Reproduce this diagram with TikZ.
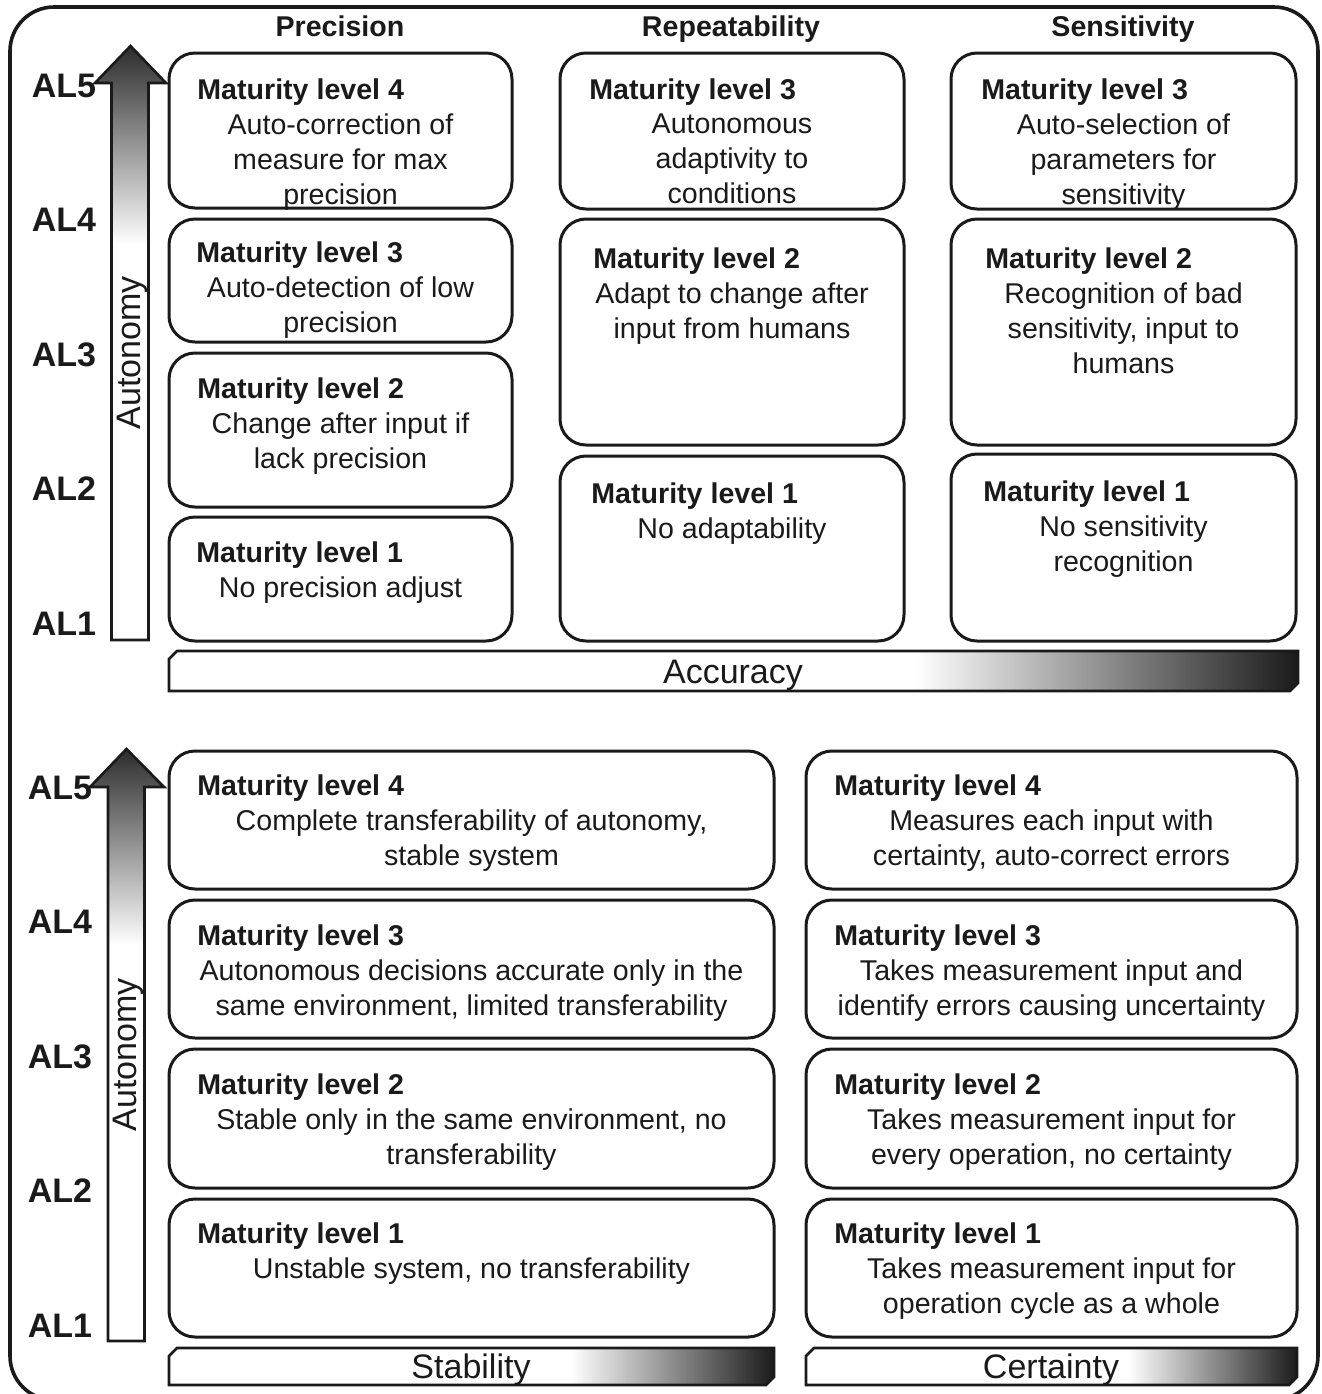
\documentclass[tikz,border=0pt]{standalone}
\usepackage{fontspec}
\setmainfont{Liberation Sans}
\usetikzlibrary{fit}
\definecolor{ink}{HTML}{1A1A1A}
\begin{document}
\begin{tikzpicture}[x=0.5pt,y=-0.5pt,
  mlbox/.style={draw=ink, line width=1.5pt, rounded corners=13pt, inner sep=0pt},
  ttl/.style={font=\fontsize{14.3}{17.5}\selectfont\bfseries, text=ink, anchor=base west, inner sep=0pt},
  desc/.style={font=\fontsize{14.3}{17.5}\selectfont, text=ink, align=center, anchor=north, inner sep=0pt, yshift=-2pt, execute at begin node={\strut}},
  desc1/.style={desc, yshift=2pt},
  hdr/.style={font=\fontsize{14.3}{17.5}\selectfont\bfseries, text=ink, anchor=base, inner sep=0pt},
  allbl/.style={font=\fontsize{17}{20}\selectfont\bfseries, text=ink, anchor=base, inner sep=0pt},
  barlbl/.style={font=\fontsize{17}{20}\selectfont, text=ink, anchor=base, inner sep=0pt},
  outl/.style={draw=ink, line width=1.3pt, line join=miter}
]
\useasboundingbox (0,0) rectangle (1322,1394);
% outer frame
\draw[draw=ink, line width=1.8pt, rounded corners=22pt] (10,7) rectangle (1318,1400);

% ---------------- upper part ----------------
\node[hdr] (hP) at (340,36) {Precision};
\node[hdr] (hR) at (731,36) {Repeatability};
\node[hdr] (hS) at (1123,36) {Sensitivity};

% autonomy arrow (upper)
\begin{scope}
\clip (111.5,640) -- (111.5,83) -- (95,83) -- (130.5,46) -- (166,83) -- (148.5,83) -- (148.5,640) -- cycle;
\fill[white] (90,40) rectangle (170,645);
\shade[top color=ink!92, bottom color=white] (90,46) rectangle (170,245);
\end{scope}
\draw[outl] (111.5,640) -- (111.5,83) -- (95,83) -- (130.5,46) -- (166,83) -- (148.5,83) -- (148.5,640) -- cycle;
\node[barlbl, anchor=center, rotate=90] (autU) at (132,353) {Autonomy};

\node[allbl] (u5) at (64,97) {AL5};
\node[allbl] (u4) at (64,231) {AL4};
\node[allbl] (u3) at (64,366) {AL3};
\node[allbl] (u2) at (64,500) {AL2};
\node[allbl] (u1) at (64,635) {AL1};

% Precision column
\node[mlbox, fit={(169,53) (512,208)}] (p4) {};
\node[mlbox, fit={(169,219) (512,342)}] (p3) {};
\node[mlbox, fit={(169,353) (512,507)}] (p2) {};
\node[mlbox, fit={(169,517) (512,641)}] (p1) {};
\node[ttl] (tp4) at (197,99) {Maturity level 4};
\node[desc] (dp4) at (340.5,109.5) {Auto-correction of\\measure for max\\precision};
\node[ttl] (tp3) at (196,262) {Maturity level 3};
\node[desc] (dp3) at (340.5,272.5) {Auto-detection of low\\precision};
\node[ttl] (tp2) at (197,398) {Maturity level 2};
\node[desc] (dp2) at (340.5,408.5) {Change after input if\\lack precision};
\node[ttl] (tp1) at (196,562) {Maturity level 1};
\node[desc1] (dp1) at (340.5,572.5) {No precision adjust};

% Repeatability column
\node[mlbox, fit={(560,53) (904,209)}] (r3) {};
\node[mlbox, fit={(560,219) (904,445)}] (r2) {};
\node[mlbox, fit={(560,456) (904,641)}] (r1) {};
\node[ttl] (tr3) at (589,99) {Maturity level 3};
\node[desc] (dr3) at (732,109.5) {Autonomous\\adaptivity to\\conditions};
\node[ttl] (tr2) at (593,268) {Maturity level 2};
\node[desc] (dr2) at (732,278.5) {Adapt to change after\\input from humans};
\node[ttl] (tr1) at (591,503) {Maturity level 1};
\node[desc1] (dr1) at (732,513.5) {No adaptability};

% Sensitivity column
\node[mlbox, fit={(951,53) (1296,209)}] (s3) {};
\node[mlbox, fit={(951,219) (1296,445)}] (s2) {};
\node[mlbox, fit={(951,454) (1296,641)}] (s1) {};
\node[ttl] (ts3) at (981,99) {Maturity level 3};
\node[desc] (ds3) at (1123.5,109.5) {Auto-selection of\\parameters for\\sensitivity};
\node[ttl] (ts2) at (985,268) {Maturity level 2};
\node[desc] (ds2) at (1123.5,278.5) {Recognition of bad\\sensitivity, input to\\humans};
\node[ttl] (ts1) at (983,501) {Maturity level 1};
\node[desc] (ds1) at (1123.5,511.5) {No sensitivity\\recognition};

% Accuracy bar
\begin{scope}
\clip (177,651) -- (1298,651) -- (1298,683) -- (1290,691) -- (169,691) -- (169,659) -- cycle;
\fill[white] (165,645) rectangle (1300,695);
\shade[left color=white, right color=ink] (915,645) rectangle (1299,695);
\end{scope}
\draw[outl] (177,651) -- (1298,651) -- (1298,683) -- (1290,691) -- (169,691) -- (169,659) -- cycle;
\node[barlbl] (acc) at (733,683) {Accuracy};

% ---------------- lower part ----------------
\begin{scope}
\clip (108,1341) -- (108,787) -- (90,787) -- (126.5,749) -- (164,787) -- (144.5,787) -- (144.5,1341) -- cycle;
\fill[white] (85,740) rectangle (170,1345);
\shade[top color=ink!92, bottom color=white] (85,749) rectangle (170,945);
\end{scope}
\draw[outl] (108,1341) -- (108,787) -- (90,787) -- (126.5,749) -- (164,787) -- (144.5,787) -- (144.5,1341) -- cycle;
\node[barlbl, anchor=center, rotate=90] (autL) at (128,1055) {Autonomy};

\node[allbl] (l5) at (60,799) {AL5};
\node[allbl] (l4) at (60,933) {AL4};
\node[allbl] (l3) at (60,1068) {AL3};
\node[allbl] (l2) at (60,1202) {AL2};
\node[allbl] (l1) at (60,1337) {AL1};

% Stability column
\node[mlbox, fit={(169,751) (774,889)}] (a4) {};
\node[mlbox, fit={(169,900) (774,1038)}] (a3) {};
\node[mlbox, fit={(169,1049) (774,1188)}] (a2) {};
\node[mlbox, fit={(169,1199) (774,1337)}] (a1) {};
\node[ttl] (ta4) at (197,795) {Maturity level 4};
\node[desc] (da4) at (471.5,805.5) {Complete transferability of autonomy,\\stable system};
\node[ttl] (ta3) at (197,945) {Maturity level 3};
\node[desc] (da3) at (471.5,955.5) {Autonomous decisions accurate only in the\\same environment, limited transferability};
\node[ttl] (ta2) at (197,1094) {Maturity level 2};
\node[desc] (da2) at (471.5,1104.5) {Stable only in the same environment, no\\transferability};
\node[ttl] (ta1) at (197,1243) {Maturity level 1};
\node[desc1] (da1) at (471.5,1253.5) {Unstable system, no transferability};

% Certainty column
\node[mlbox, fit={(806,751) (1297,889)}] (c4) {};
\node[mlbox, fit={(806,900) (1297,1038)}] (c3) {};
\node[mlbox, fit={(806,1049) (1297,1188)}] (c2) {};
\node[mlbox, fit={(806,1199) (1297,1337)}] (c1) {};
\node[ttl] (tc4) at (834,795) {Maturity level 4};
\node[desc] (dc4) at (1051.5,805.5) {Measures each input with\\certainty, auto-correct errors};
\node[ttl] (tc3) at (834,945) {Maturity level 3};
\node[desc] (dc3) at (1051.5,955.5) {Takes measurement input and\\identify errors causing uncertainty};
\node[ttl] (tc2) at (834,1094) {Maturity level 2};
\node[desc] (dc2) at (1051.5,1104.5) {Takes measurement input for\\every operation, no certainty};
\node[ttl] (tc1) at (834,1243) {Maturity level 1};
\node[desc] (dc1) at (1051.5,1253.5) {Takes measurement input for\\operation cycle as a whole};

% Stability bar
\begin{scope}
\clip (177,1348) -- (774,1348) -- (774,1377) -- (766,1385) -- (169,1385) -- (169,1356) -- cycle;
\fill[white] (165,1340) rectangle (780,1390);
\shade[left color=white, right color=ink] (570,1340) rectangle (775,1390);
\end{scope}
\draw[outl] (177,1348) -- (774,1348) -- (774,1377) -- (766,1385) -- (169,1385) -- (169,1356) -- cycle;
\node[barlbl] (stab) at (471,1378) {Stability};

% Certainty bar
\begin{scope}
\clip (814,1348) -- (1297,1348) -- (1297,1377) -- (1289,1385) -- (806,1385) -- (806,1356) -- cycle;
\fill[white] (800,1340) rectangle (1300,1390);
\shade[left color=white, right color=ink] (1128,1340) rectangle (1298,1390);
\end{scope}
\draw[outl] (814,1348) -- (1297,1348) -- (1297,1377) -- (1289,1385) -- (806,1385) -- (806,1356) -- cycle;
\node[barlbl] (cert) at (1051,1378) {Certainty};
\end{tikzpicture}
\end{document}
